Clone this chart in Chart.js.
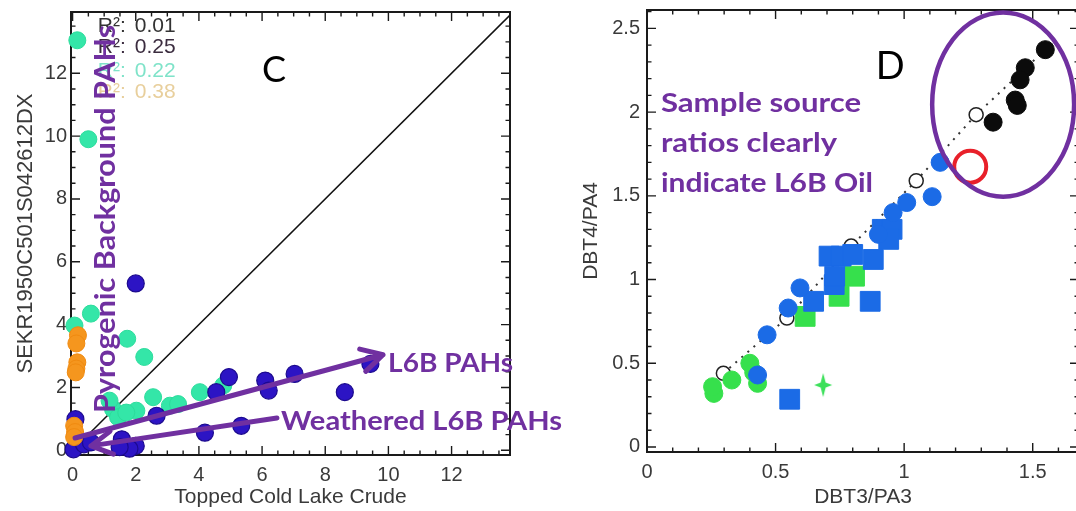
<!DOCTYPE html>
<html>
<head>
<meta charset="utf-8">
<title>PAH source ratios</title>
<script src="https://cdn.jsdelivr.net/npm/chart.js@4.4.1/dist/chart.umd.min.js"></script>
<style>
  html, body { margin: 0; padding: 0; background: #fff; overflow: hidden; }
  #wrap { position: relative; width: 1076px; height: 511px; }
  canvas { position: absolute; top: 0; }
  #chartC { left: 0; }
  #chartD { left: 540px; }
</style>
</head>
<body>
<div id="wrap">
  <canvas id="chartC" width="600" height="511"></canvas>
  <canvas id="chartD" width="545" height="511"></canvas>
</div>
<script>
// ---- panel C: sample PAHs vs topped Cold Lake crude ----
const cTicks = [0, 2, 4, 6, 8, 10, 12];
const cOrangeX = [0.17, 0.12, 0.15, 0.12, 0.1, 0.05, 0.08, 0.05];
const cOrangeY = [3.66, 3.4, 2.8, 2.6, 2.48, 0.78, 0.58, 0.42];
const cBlueX = [2.0, 4.95, 4.55, 6.1, 6.21, 7.03, 8.62, 9.43, 2.66, 4.19, 5.34, 1.56, 2.0, 1.8, 0.09, 0.03, 0.36, 0.58, 1.49];
const cBlueY = [5.31, 2.33, 1.85, 2.22, 1.9, 2.43, 1.85, 2.75, 1.1, 0.56, 0.78, 0.35, 0.14, 0.05, 0.99, 0.03, 0.19, 0.25, 0.1];
const cTealX = [0.15, 0.5, 0.58, 0.06, 1.73, 2.27, 1.28, 1.44, 2.02, 2.55, 3.08, 3.34, 4.03, 4.77, 1.17, 1.7];
const cTealY = [13.05, 9.9, 4.35, 3.97, 3.55, 2.97, 1.31, 1.05, 1.26, 1.69, 1.42, 1.47, 1.85, 2.06, 1.58, 1.2];
const cOneToOne = [0, 13.9];
const cRsquared = ['0.01', '0.25', '0.22', '0.38'];

// ---- panel D: DBT4/PA4 vs DBT3/PA3 ----
const dTicksX = [0, 0.5, 1, 1.5];
const dTicksY = [0, 0.5, 1, 1.5, 2, 2.5];
const dBlackX = [1.549, 1.471, 1.451, 1.432, 1.44, 1.346];
const dBlackY = [2.373, 2.265, 2.193, 2.072, 2.04, 1.94];
const dOpenX = [0.297, 0.544, 0.794, 1.047, 1.28];
const dOpenY = [0.44, 0.77, 1.2, 1.59, 1.985];
const dRefX = [0.297, 0.544, 0.794, 1.047, 1.28, 1.549];
const dRefY = [0.44, 0.77, 1.2, 1.59, 1.985, 2.373];
const dBlueCircX = [0.43, 0.467, 0.549, 0.595, 0.9, 0.957, 1.01, 1.109, 1.14];
const dBlueCircY = [0.43, 0.67, 0.83, 0.95, 1.27, 1.40, 1.46, 1.495, 1.70];
const dBlueSqX = [0.555, 0.648, 0.728, 0.708, 0.755, 0.80, 0.88, 0.868, 0.915, 0.953, 0.94, 0.73];
const dBlueSqY = [0.285, 0.87, 0.97, 1.14, 1.14, 1.15, 1.12, 0.87, 1.30, 1.30, 1.24, 1.02];
const dGreenCircX = [0.26, 0.255, 0.33, 0.40, 0.415, 0.43];
const dGreenCircY = [0.32, 0.36, 0.40, 0.50, 0.445, 0.38];
const dGreenSqX = [0.615, 0.747, 0.807];
const dGreenSqY = [0.78, 0.90, 1.02];
const dStarX = [0.685];
const dStarY = [0.37];
const dRedX = [1.257];
const dRedY = [1.674];

const PURPLE = '#7030a0';
const AXIS_FONT = 'Liberation Sans, Arial, sans-serif';
const NOTE_FONT = 'Lato, "Open Sans", sans-serif';

function pts(xs, ys) {
    return xs.map((x, i) => ({ x: x, y: ys[i] }));
}

// text squeezed/stretched horizontally to a given width (Calibri look-alike)
function fitText(ctx, text, x, y, width, font, color, angle) {
    ctx.save();
    ctx.font = font;
    const w = ctx.measureText(text).width;
    ctx.translate(x, y);
    if (angle) ctx.rotate(angle);
    ctx.scale(width / w, 1);
    ctx.fillStyle = color;
    ctx.textAlign = 'left';
    ctx.textBaseline = 'alphabetic';
    ctx.fillText(text, 0, 0);
    ctx.restore();
}

function arrow(ctx, x1, y1, x2, y2) {
    const a = Math.atan2(y2 - y1, x2 - x1);
    const head = 24, spread = 0.5;
    ctx.save();
    ctx.strokeStyle = PURPLE;
    ctx.lineWidth = 5;
    ctx.lineCap = 'round';
    ctx.lineJoin = 'round';
    ctx.beginPath();
    ctx.moveTo(x1, y1);
    ctx.lineTo(x2, y2);
    ctx.moveTo(x2 - head * Math.cos(a - spread), y2 - head * Math.sin(a - spread));
    ctx.lineTo(x2, y2);
    ctx.lineTo(x2 - head * Math.cos(a + spread), y2 - head * Math.sin(a + spread));
    ctx.stroke();
    ctx.restore();
}

// box frame with inward major/minor ticks on all four sides
const boxTicks = {
    id: 'boxTicks',
    beforeDatasetsDraw(chart, args, opts) {
        const { ctx, chartArea: a, scales: { x, y } } = chart;
        const major = 9, minor = 4.5;
        ctx.save();
        ctx.strokeStyle = '#1a1a1a';
        ctx.lineWidth = 1.4;
        ctx.beginPath();
        const minors = (scale, step) => {
            const out = [];
            for (let v = Math.ceil(scale.min / step) * step; v <= scale.max + 1e-9; v += step) out.push(v);
            return out;
        };
        const xTick = (v, len) => {
            const p = x.getPixelForValue(v);
            ctx.moveTo(p, a.bottom); ctx.lineTo(p, a.bottom - len);
            ctx.moveTo(p, a.top); ctx.lineTo(p, a.top + len);
        };
        const yTick = (v, len) => {
            const p = y.getPixelForValue(v);
            ctx.moveTo(a.left, p); ctx.lineTo(a.left + len, p);
            ctx.moveTo(a.right, p); ctx.lineTo(a.right - len, p);
        };
        minors(x, opts.minorX).forEach(v => xTick(v, minor));
        minors(y, opts.minorY).forEach(v => yTick(v, minor));
        x.ticks.forEach(t => xTick(t.value, major));
        y.ticks.forEach(t => yTick(t.value, major));
        ctx.stroke();
        ctx.lineWidth = 2;
        ctx.strokeRect(a.left, a.top, a.right - a.left, a.bottom - a.top);
        ctx.restore();
    }
};

function axisScale(opts) {
    return {
        type: 'linear',
        min: opts.min,
        max: opts.max,
        afterBuildTicks: s => { s.ticks = opts.ticks.map(v => ({ value: v })); },
        afterFit: s => {
            if (s.isHorizontal()) s.height = opts.size; else s.width = opts.size;
            // keep the plot box exactly where the layout padding puts it
            s.paddingTop = s.paddingBottom = s.paddingLeft = s.paddingRight = 0;
        },
        grid: { display: false, drawTicks: false },
        border: { display: false },
        ticks: {
            padding: opts.pad,
            color: '#3a3a3a',
            autoSkip: false,
            maxRotation: 0,
            font: { family: AXIS_FONT, size: 20 },
            callback: v => String(v)
        },
        title: {
            display: true,
            text: opts.title,
            color: '#3a3a3a',
            font: { family: AXIS_FONT, size: opts.titleSize },
            padding: opts.titlePad
        }
    };
}

// ---- panel C notes: R², arrows, labels ----
const cNotes = {
    id: 'cNotes',
    afterDatasetsDraw(chart) {
        const { ctx, scales: { x, y } } = chart;
        const px = v => x.getPixelForValue(v);
        const py = v => y.getPixelForValue(v);

        const rColors = ['#333333', '#3b2c3f', '#7fe3c9', '#e8cf9c'];
        const rBase = [13.31, 12.64, 11.88, 11.21];
        ctx.save();
        ctx.font = '21px ' + AXIS_FONT;
        ctx.textBaseline = 'alphabetic';
        cRsquared.forEach((r, i) => {
            ctx.fillStyle = rColors[i];
            ctx.fillText('R\u00B2:', px(0.8), py(rBase[i]));
            ctx.fillText(r, px(1.97), py(rBase[i]));
        });
        ctx.fillStyle = '#000';
        ctx.font = '36px ' + NOTE_FONT;
        ctx.textAlign = 'center';
        ctx.fillText('C', px(6.38), py(11.72));
        ctx.restore();

        arrow(ctx, px(0.08), py(0.39), px(9.83), py(3.04));
        arrow(ctx, px(6.47), py(1.03), px(0.58), py(0.14));

        const bold = 'bold 26px ' + NOTE_FONT;
        fitText(ctx, 'L6B PAHs', px(9.99), py(2.49), px(13.95) - px(9.99), bold, PURPLE);
        fitText(ctx, 'Weathered L6B PAHs', px(6.6), py(0.65), px(15.5) - px(6.6), bold, PURPLE);
        fitText(ctx, 'Pyrogenic Background PAHs', px(1.34), py(1.19), py(1.19) - py(13.54),
            'bold 29px ' + NOTE_FONT, PURPLE, -Math.PI / 2);
    }
};

// ---- panel D notes: label, text block, ellipse ----
const dNotes = {
    id: 'dNotes',
    afterDatasetsDraw(chart) {
        const { ctx, scales: { x, y } } = chart;
        const px = v => x.getPixelForValue(v);
        const py = v => y.getPixelForValue(v);

        ctx.save();
        ctx.fillStyle = '#000';
        ctx.font = '38px ' + NOTE_FONT;
        ctx.textAlign = 'center';
        ctx.fillText('D', px(0.946), py(2.2));

        ctx.strokeStyle = PURPLE;
        ctx.lineWidth = 4.5;
        ctx.beginPath();
        ctx.ellipse(px(1.385), py(2.045), px(1.385 + 0.276) - px(1.385), py(2.045) - py(2.045 + 0.55), 0, 0, Math.PI * 2);
        ctx.stroke();
        ctx.restore();

        const bold = 'bold 26px ' + NOTE_FONT;
        fitText(ctx, 'Sample source', px(0.054), py(2.0), px(0.833) - px(0.054), bold, PURPLE);
        fitText(ctx, 'ratios clearly', px(0.054), py(1.764), px(0.739) - px(0.054), bold, PURPLE);
        fitText(ctx, 'indicate L6B Oil', px(0.054), py(1.52), px(0.879) - px(0.054), bold, PURPLE);
    }
};

// four-pointed star marker
const star = document.createElement('canvas');
star.width = 26; star.height = 26;
(function () {
    const g = star.getContext('2d');
    g.fillStyle = '#3ce05a';
    g.beginPath();
    g.moveTo(13, 1); g.lineTo(15.5, 10.5); g.lineTo(22, 13); g.lineTo(15.5, 15.5);
    g.lineTo(13, 25); g.lineTo(10.5, 15.5); g.lineTo(4, 13); g.lineTo(10.5, 10.5);
    g.closePath();
    g.fill();
})();

const common = {
    responsive: false,
    animation: false,
    events: [],
    plugins: { legend: { display: false }, tooltip: { enabled: false } }
};

new Chart(document.getElementById('chartC'), {
    type: 'scatter',
    data: {
        datasets: [
            { data: pts(cOrangeX, cOrangeY), backgroundColor: '#f5961e', borderColor: '#f08a10', borderWidth: 1, pointRadius: 8.5, clip: 10 },
            { data: pts(cBlueX, cBlueY), backgroundColor: '#2c14c4', borderColor: '#1c0a8e', borderWidth: 1.2, pointRadius: 8.5, clip: 10 },
            { data: pts(cTealX, cTealY), backgroundColor: '#34e6a8', borderColor: '#2cdc9c', borderWidth: 1, pointRadius: 8.5, clip: 10 },
            { data: pts(cOneToOne, cOneToOne), showLine: true, borderColor: '#111', borderWidth: 1.5, pointRadius: 0 }
        ]
    },
    options: Object.assign({}, common, {
        layout: { autoPadding: false, padding: { top: 12, right: 90, bottom: 0, left: 0 } },
        scales: {
            x: axisScale({ min: -0.05, max: 13.85, ticks: cTicks, size: 56, pad: 8, title: 'Topped Cold Lake Crude', titleSize: 21, titlePad: { top: 0, bottom: 1 } }),
            y: axisScale({ min: -0.15, max: 13.95, ticks: cTicks, size: 71, pad: 4, title: 'SEKR1950C501S042612DX', titleSize: 22, titlePad: { top: 13, bottom: 0 } })
        },
        plugins: Object.assign({}, common.plugins, { boxTicks: { minorX: 0.5, minorY: 0.5 } })
    }),
    plugins: [boxTicks, cNotes]
});

new Chart(document.getElementById('chartD'), {
    type: 'scatter',
    data: {
        datasets: [
            { data: pts(dRedX, dRedY), backgroundColor: 'rgba(0,0,0,0)', borderColor: '#e8202a', borderWidth: 4, pointRadius: 16 },
            { data: pts(dBlackX, dBlackY), backgroundColor: '#0b0b0b', borderColor: '#0b0b0b', borderWidth: 1, pointRadius: 9 },
            { data: pts(dBlueCircX, dBlueCircY), backgroundColor: '#1b6be6', borderColor: '#1b6be6', borderWidth: 1, pointRadius: 9 },
            { data: pts(dBlueSqX, dBlueSqY), pointStyle: 'rect', backgroundColor: '#1b6be6', borderColor: '#1b6be6', borderWidth: 1, pointRadius: 14 },
            { data: pts(dGreenCircX, dGreenCircY), backgroundColor: '#36e04c', borderColor: '#36e04c', borderWidth: 1, pointRadius: 9 },
            { data: pts(dGreenSqX, dGreenSqY), pointStyle: 'rect', backgroundColor: '#36e04c', borderColor: '#36e04c', borderWidth: 1, pointRadius: 14 },
            { data: pts(dStarX, dStarY), pointStyle: star, pointRadius: 13 },
            { data: pts(dOpenX, dOpenY), backgroundColor: '#fff', borderColor: '#222', borderWidth: 1.5, pointRadius: 7 },
            { data: pts(dRefX, dRefY), showLine: true, borderColor: '#333', borderWidth: 2, borderDash: [2, 6], pointRadius: 0 }
        ]
    },
    options: Object.assign({}, common, {
        layout: { autoPadding: false, padding: { top: 10, right: 6, bottom: 0, left: 0 } },
        scales: {
            x: axisScale({ min: 0, max: 1.68, ticks: dTicksX, size: 59, pad: 8, title: 'DBT3/PA3', titleSize: 21, titlePad: { top: 0, bottom: 1 } }),
            y: axisScale({ min: -0.03, max: 2.61, ticks: dTicksY, size: 107, pad: 7, title: 'DBT4/PA4', titleSize: 21, titlePad: { top: 39, bottom: 0 } })
        },
        plugins: Object.assign({}, common.plugins, { boxTicks: { minorX: 0.1, minorY: 0.1 } })
    }),
    plugins: [boxTicks, dNotes]
});
</script>
</body>
</html>
